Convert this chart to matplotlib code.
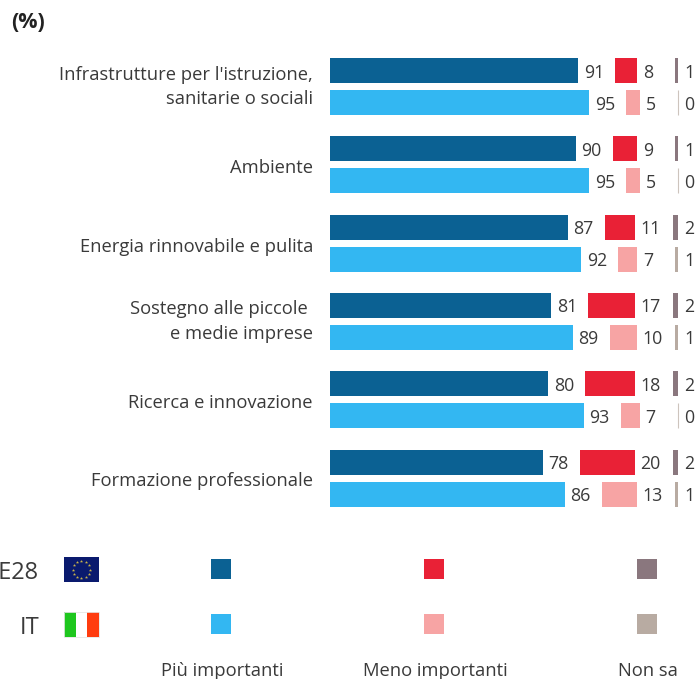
import matplotlib
matplotlib.use('Agg')
import matplotlib.pyplot as plt
from matplotlib.patches import Rectangle
import numpy as np

plt.rcParams['font.family'] = ['Open Sans', 'DejaVu Sans']

categories = [["Infrastrutture per l'istruzione,", "sanitarie o sociali"],
              ["Ambiente"],
              ["Energia rinnovabile e pulita"],
              ["Sostegno alle piccole ", "e medie imprese"],
              ["Ricerca e innovazione"],
              ["Formazione professionale"]]
eu_more = [91, 90, 87, 81, 80, 78]
it_more = [95, 95, 92, 89, 93, 86]
eu_less = [8, 9, 11, 17, 18, 20]
it_less = [5, 5, 7, 10, 7, 13]
eu_dk = [1, 1, 2, 2, 2, 2]
it_dk = [0, 0, 1, 1, 0, 1]
legend_labels = ['Più importanti', 'Meno importanti', 'Non sa']

dark_blue, light_blue = '#0b6193', '#33b7f2'
dark_red, light_red = '#e92136', '#f7a4a4'
dark_grey, light_grey = '#8a777e', '#b8aba2'
text_color = '#3a3a3a'

W, H = 696, 679
UNIT = 2.73         # pixels per percentage point
X0 = 330            # pixel position of 0 %


def px(x):
    # pixel column -> data units of the x axis
    return (x - X0) / UNIT


fig = plt.figure(figsize=(W / 100, H / 100), dpi=100)
ax = fig.add_axes([0, 0, 1, 1])
ax.set_xlim(px(0), px(W))
ax.set_ylim(H, 0)
ax.axis('off')

less_end = px(640)
dk_end = px(678)
bar_h = 25
fs = 12.8
label_fs = 13.2

for i, cat in enumerate(categories):
    y_eu = 70.5 + 78.3 * i
    y_it = 102.5 + 78.3 * i
    rows = [(y_eu, eu_more[i], eu_less[i], eu_dk[i], dark_blue, dark_red, dark_grey),
            (y_it, it_more[i], it_less[i], it_dk[i], light_blue, light_red, light_grey)]
    for y, more, less, dk, c1, c2, c3 in rows:
        ax.barh(y, more, height=bar_h, color=c1)
        ax.text(more + 5.5 / UNIT, y + 2, str(more), va='center', ha='left', fontsize=fs, color=text_color)
        right = less_end - dk
        ax.barh(y, less, left=right - less, height=bar_h, color=c2)
        ax.text(right + 5.5 / UNIT, y + 2, str(less), va='center', ha='left', fontsize=fs, color=text_color)
        if dk > 0:
            ax.barh(y, dk, left=dk_end - dk, height=bar_h, color=c3)
        else:
            ax.vlines(dk_end, y - bar_h / 2, y + bar_h / 2, color=c3, linewidth=0.8, alpha=0.7)
        ax.text(px(684), y + 2, str(dk), va='center', ha='left', fontsize=fs, color=text_color)
    # category labels, one baseline per line
    middle = (y_eu + y_it) / 2
    baselines = [middle + 8.5] if len(cat) == 1 else [middle - 7, middle + 18]
    for line, base in zip(cat, baselines):
        ax.text(px(313), base, line, ha='right', va='baseline', fontsize=label_fs, color=text_color)

# title remains, cut off by the top of the picture
ax.text(px(31), -5, 'g', ha='center', va='baseline', fontsize=15.5, fontweight='bold', color='#222222')
ax.text(px(11), 22, '(%)', ha='left', va='center', fontsize=15.5, fontweight='bold', color='#222222')

# legend rows
ax.text(px(39.5), 573, 'UE28', ha='right', va='center', fontsize=17, color=text_color)
ax.text(px(40), 628, 'IT', ha='right', va='center', fontsize=17, color=text_color)

# EU flag
ax.add_patch(Rectangle((px(64), 557), 35 / UNIT, 25, color='#0a1a6e', lw=0))
angles = np.arange(12) * np.pi / 6
ax.scatter(px(81.5) + 8.5 * np.cos(angles) / UNIT, 569.5 + 8.5 * np.sin(angles),
           marker='*', s=6, color='#c9b44a', linewidths=0)

# IT flag
for x_left, c in zip([64, 76, 87], ['#1ec71e', '#ffffff', '#ff3c0f']):
    ax.add_patch(Rectangle((px(x_left), 612), 12 / UNIT, 25, color=c, lw=0))
ax.add_patch(Rectangle((px(64), 612), 35 / UNIT, 25, fill=False, edgecolor='#e6e6e6', lw=0.6))

for x_left, c1, c2, label in zip([211, 424, 637],
                                 [dark_blue, dark_red, dark_grey],
                                 [light_blue, light_red, light_grey],
                                 legend_labels):
    ax.add_patch(Rectangle((px(x_left), 559), 20 / UNIT, 20, color=c1, lw=0))
    ax.add_patch(Rectangle((px(x_left), 614), 20 / UNIT, 20, color=c2, lw=0))
    ax.text(px(x_left + 11), 671, label, ha='center', va='center', fontsize=label_fs, color=text_color)

fig.savefig('out.png', dpi=100)
